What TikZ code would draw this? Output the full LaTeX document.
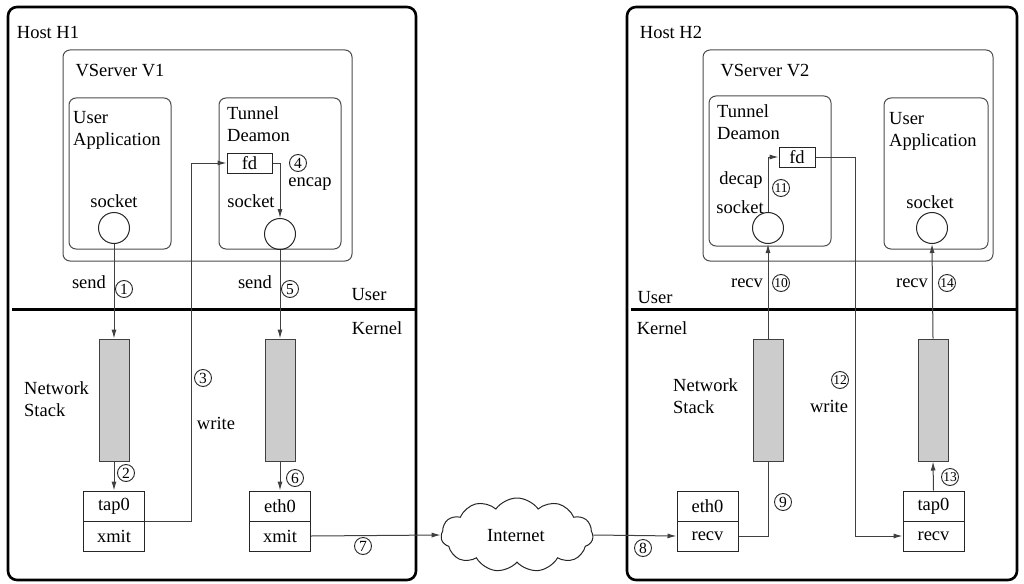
\documentclass[tikz,border=0pt]{standalone}
\usepackage{fontspec}
\setmainfont{Liberation Serif}
\usetikzlibrary{shapes.symbols,arrows.meta}

\begin{document}
\begin{tikzpicture}[x=1pt,y=-1pt,
  font=\fontsize{18.5}{22}\selectfont,
  host/.style={draw, line width=2.6pt, rounded corners=9pt},
  container/.style={draw=black!70, line width=1pt, rounded corners=7pt},
  levelline/.style={line width=3pt},
  sock/.style={circle, draw=black!85, line width=1pt, minimum size=31pt, inner sep=0pt},
  stack/.style={draw=black!75, fill=black!20, line width=1pt, minimum width=30pt, minimum height=122pt, inner sep=0pt},
  dev/.style={draw=black!85, line width=1pt, minimum width=61pt, minimum height=30pt, inner sep=0pt},
  fdbox/.style={draw=black!85, line width=1pt, minimum height=20pt, inner sep=0pt},
  flow/.style={line width=1pt, draw=black!75, -{Latex[length=9pt,width=5pt]}},
  wire/.style={line width=1pt, draw=black!75},
  num/.style={circle, draw=black!85, line width=0.9pt, inner sep=0pt, minimum size=17pt, font=\fontsize{15.5}{16}\selectfont},
  numtwo/.style={num, font=\fontsize{13.5}{14}\selectfont},
  txt/.style={inner sep=0pt},
  multi/.style={inner sep=0pt, anchor=west, align=left},
  bigcloud/.style={cloud, cloud puffs=11, cloud puff arc=110, aspect=2.1, draw=black!85, line width=1pt,
                   minimum width=152pt, minimum height=74pt, inner sep=0pt},
]
\useasboundingbox (0,0) rectangle (1024,583);

% ---------------- Host H1 ----------------
\draw[host] (8,7) rectangle (416,580);
\node[txt] (h1) at (48,32) {Host H1};
\draw[container] (63,50) rectangle (352,261);
\node[txt] (v1) at (120,71) {VServer V1};
\draw[container] (69,98) rectangle (171,249);
\node[multi] (ua1) at (73,130) {User\\Application};
\draw[container] (219,98) rectangle (341,249);
\node[multi] (td1) at (227,124) {Tunnel\\Deamon};

\node[txt] (sl1) at (114,201) {socket};
\node[sock] (s1) at (114,228) {};
\node[txt] (sl2) at (251,201) {socket};
\node[sock] (s2) at (280,234) {};
\node[fdbox, minimum width=45pt] (fd1) at (249.5,163) {fd};
\node[txt] (enc) at (310,184) {encap};

\draw[levelline] (12,309) -- (416,309);
\node[txt] (u1) at (369,295) {User};
\node[txt] (k1) at (377,328) {Kernel};

\node[multi] (ns1) at (24,399) {Network\\Stack};
\node[stack] (st1) at (114,400) {};
\node[stack] (st2) at (280,400) {};

\node[dev] (tap1) at (114,506) {tap0};
\node[dev] (xm1) at (114,536) {xmit};
\node[dev] (eth1) at (280,506) {eth0};
\node[dev] (xm2) at (280,536) {xmit};

\node[txt] (snd1) at (89,282) {send};
\node[txt] (snd2) at (255,282) {send};
\node[txt] (wr1) at (216,423) {write};

\node[num] (n1) at (124,289) {1};
\node[num] (n2) at (126,473) {2};
\node[num] (n3) at (203,378) {3};
\node[num] (n4) at (298,163) {4};
\node[num] (n5) at (290,289) {5};
\node[num] (n6) at (295,478) {6};
\node[num] (n7) at (363,546) {7};

% ---------------- Internet ----------------
\node[bigcloud] (net) at (517,535) {};
\node[txt] (nett) at (516,536) {Internet};

% ---------------- Host H2 ----------------
\draw[host] (627,7) rectangle (1017,580);
\node[txt] (h2) at (671,32) {Host H2};
\draw[container] (703,50) rectangle (993,261);
\node[txt] (v2) at (765,71) {VServer V2};
\draw[container] (709,96) rectangle (831,246);
\node[multi] (td2) at (717,122) {Tunnel\\Deamon};
\draw[container] (884,98) rectangle (988,249);
\node[multi] (ua2) at (889,131) {User\\Application};

\node[fdbox, minimum width=36pt] (fd2) at (797,157) {fd};
\node[txt] (dec) at (741,180) {decap};
\node[txt] (sl3) at (740,207) {socket};
\node[sock] (s3) at (768,228) {};
\node[txt] (sl4) at (930,202) {socket};
\node[sock] (s4) at (932,228) {};

\draw[levelline] (631,309) -- (1017,309);
\node[txt] (u2) at (655,298) {User};
\node[txt] (k2) at (662,328) {Kernel};

\node[multi] (ns2) at (673,396) {Network\\Stack};
\node[stack] (st3) at (768,400) {};
\node[stack] (st4) at (933,400) {};

\node[dev] (eth2) at (707.5,506) {eth0};
\node[dev] (rc1) at (707.5,536) {recv};
\node[dev] (tap2) at (933.5,506) {tap0};
\node[dev] (rc2) at (933.5,536) {recv};

\node[txt] (rv1) at (747,283) {recv};
\node[txt] (rv2) at (912,283) {recv};
\node[txt] (wr2) at (829,406) {write};

\node[num] (n8) at (643,548) {8};
\node[num] (n9) at (783,502) {9};
\node[numtwo] (n10) at (781,283) {10};
\node[numtwo] (n11) at (781,188) {11};
\node[numtwo] (n12) at (840,380) {12};
\node[numtwo] (n13) at (950,477) {13};
\node[numtwo] (n14) at (947,283) {14};

% ---------------- Packet path ----------------
\draw[flow] (s1.south) -- (st1.north);
\draw[flow] (st1.south) -- (tap1.north);
\draw[flow] (tap1.south east) -| ([xshift=-35pt]fd1.west) -- (fd1.west);
\draw[flow] (fd1.east) -| (s2.north);
\draw[flow] (s2.south) -- (st2.north);
\draw[flow] (st2.south) -- (eth1.north);
\draw[flow] (xm2.east) -- (net.west);
\draw[flow] (net.east) -- (rc1.west);
\draw[wire] (rc1.east) -| (st3.south);
\draw[flow] (st3.north) -- (s3.south);
\draw[flow] (s3.north) |- (fd2.west);
\draw[flow] (fd2.east) -- ++(40,0) |- (rc2.west);
\draw[flow] (tap2.north) -- (st4.south);
\draw[flow] (st4.north) -- (s4.south);
\end{tikzpicture}
\end{document}
